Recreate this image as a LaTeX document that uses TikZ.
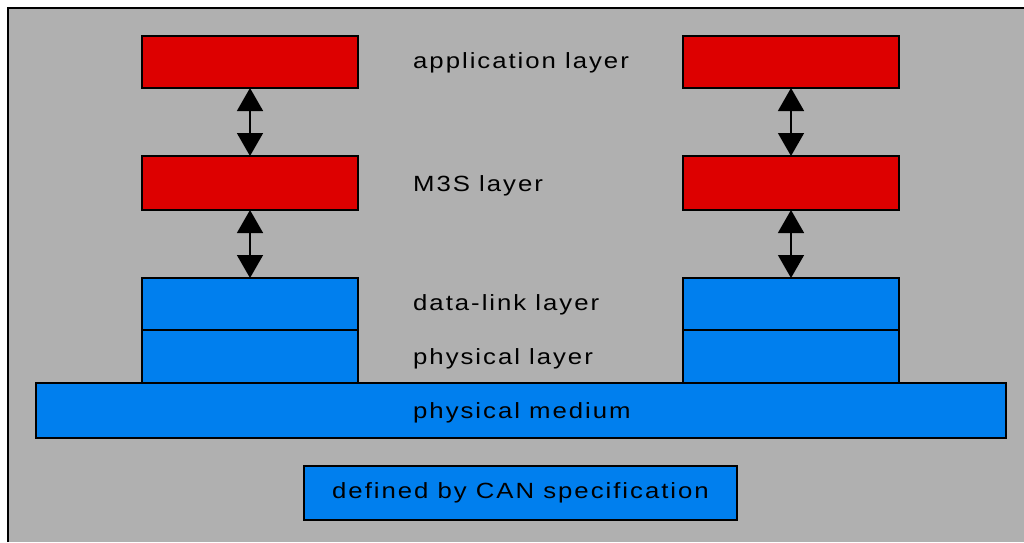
\documentclass[tikz,border=0pt]{standalone}
\usepackage{fontspec}
\setmainfont{Liberation Sans}[FakeStretch=1.17,LetterSpace=9]
\usetikzlibrary{arrows.meta}
\definecolor{bggray}{RGB}{176,176,176}
\definecolor{layred}{RGB}{221,0,0}
\definecolor{layblue}{RGB}{0,127,238}
\tikzset{
  layerbox/.style={draw=black,line width=1.5pt,inner sep=0pt,outer sep=0pt,minimum width=216pt},
  redbox/.style={layerbox,fill=layred},
  bluebox/.style={layerbox,fill=layblue},
  lbl/.style={anchor=base west,inner sep=0pt,font=\fontsize{22pt}{26pt}\selectfont},
  dblarrow/.style={line width=1.5pt,{Triangle[width=26pt,length=23pt]}-{Triangle[width=26pt,length=23pt]}}
}
\begin{document}
\begin{tikzpicture}[x=1pt,y=-1pt]
\useasboundingbox (0,0) rectangle (1024,542);
\fill[white] (0,0) rectangle (1024,542);
\fill[bggray] (8,8) rectangle (1024,542);
\draw[line width=2.5pt] (8,542) -- (8,8) -- (1024,8);
% left stack
\node[redbox,minimum height=52pt] (appL) at (250,62) {};
\node[redbox,minimum height=54pt] (m3sL) at (250,183) {};
\node[bluebox,minimum height=52pt] (dlL) at (250,304) {};
\node[bluebox,minimum height=53pt] (phL) at (250,356.5) {};
% right stack
\node[redbox,minimum height=52pt] (appR) at (791,62) {};
\node[redbox,minimum height=54pt] (m3sR) at (791,183) {};
\node[bluebox,minimum height=52pt] (dlR) at (791,304) {};
\node[bluebox,minimum height=53pt] (phR) at (791,356.5) {};
% medium
\node[bluebox,minimum width=970pt,minimum height=55pt] (med) at (521,410.5) {};
% arrows
\draw[dblarrow] (appL.south) -- (m3sL.north);
\draw[dblarrow] (m3sL.south) -- (dlL.north);
\draw[dblarrow] (appR.south) -- (m3sR.north);
\draw[dblarrow] (m3sR.south) -- (dlR.north);
% labels
\node[lbl] (tApp) at (413,68) {application layer};
\node[lbl] (tM3S) at (413,191) {M3S layer};
\node[lbl] (tDL) at (413,310) {data-link layer};
\node[lbl] (tPH) at (413,364) {physical layer};
\node[lbl] (tMed) at (413,418) {physical medium};
% legend
\node[bluebox,minimum width=433pt,minimum height=54pt,font=\fontsize{22pt}{26pt}\selectfont] (can) at (520.5,493) {defined by CAN specification};
\end{tikzpicture}
\end{document}
